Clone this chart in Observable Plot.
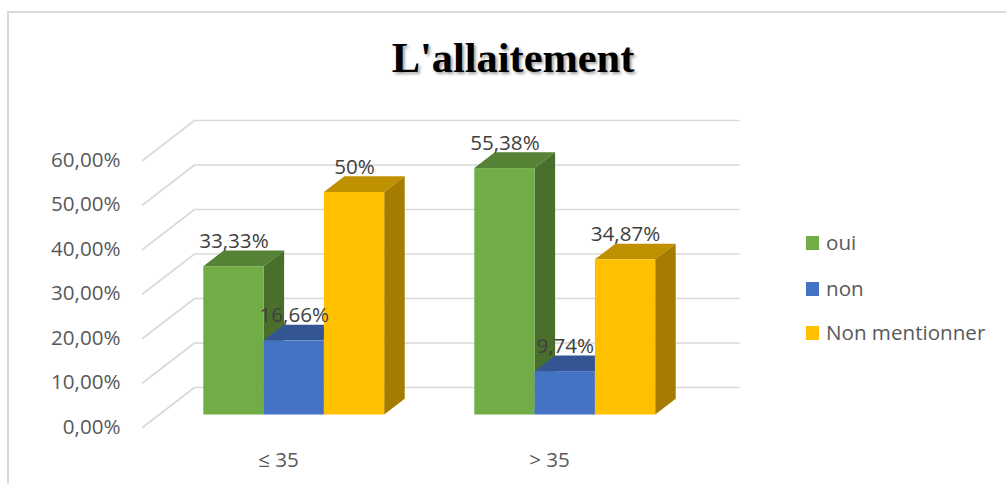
<!DOCTYPE html>
<html>
<head>
<meta charset="utf-8">
<script src="https://cdn.jsdelivr.net/npm/d3@7"></script>
<script src="https://cdn.jsdelivr.net/npm/@observablehq/plot@0.6"></script>
<style>
  html, body { margin: 0; padding: 0; background: #fff; overflow: hidden; }
  #page { position: relative; width: 1006px; height: 484px; overflow: hidden; font-family: "Open Sans", sans-serif; }
  #page svg { position: absolute; left: 0; top: 0; background: transparent; }
  #frame { position: absolute; left: 7px; top: 11px; width: 1100px; height: 600px; border-left: 2px solid #d9d9d9; border-top: 2px solid #d9d9d9; }
  #title { position: absolute; left: 0; top: 32px; width: 1026px; text-align: center; font: bold 42.4px/52px "Liberation Serif", serif; color: #000; text-shadow: 2px 2px 3px rgba(0,0,0,.38); }
  .lg { position: absolute; left: 806px; height: 14px; }
  .lg i { position: absolute; left: 0; top: 0; width: 13px; height: 14px; }
  .lg span { position: absolute; left: 20px; top: -7px; line-height: 26px; font-size: 20.6px; color: #595959; white-space: nowrap; }
</style>
</head>
<body>
<div id="page">
  <div id="frame"></div>
  <div id="title">L'allaitement</div>
</div>
<script>
const groups = ["≤ 35", "> 35"];
const seriesNames = ["oui", "non", "Non mentionner"];
const oui = [33.33, 55.38];
const non = [16.66, 9.74];
const nonMentionner = [50, 34.87];
const ouiLabels = ["33,33%", "55,38%"];
const nonLabels = ["16,66%", "9,74%"];
const nonMentionnerLabels = ["50%", "34,87%"];
const yTicks = [0, 10, 20, 30, 40, 50, 60];
const yTickLabels = ["0,00%", "10,00%", "20,00%", "30,00%", "40,00%", "50,00%", "60,00%"];

const frontColors = ["#70ad47", "#4472c4", "#ffc000"];
const topColors = ["#568235", "#335593", "#bf9000"];
const sideColors = ["#4a6f2c", "#2f5190", "#a67c00"];

// 3D projection constants, in scale units (x: group spacing, y: percent)
const pxX = 271, pxY = 4.45;
const barW = 60.3 / pxX, groupStart = -74.7 / pxX;
const barDX = 20.5 / pxX, barDY = 15.7 / pxY;
const gridFrontX = -136 / pxX, gridBackX = -84 / pxX, gridEndX = 460.5 / pxX;
const gridFrontY = -12.5 / pxY, gridBackY = 27.5 / pxY;

const values = [oui, non, nonMentionner];
const labels = [ouiLabels, nonLabels, nonMentionnerLabels];
const bars = groups.flatMap((g, gi) => values.map((vals, si) => ({
  x1: gi + groupStart + si * barW,
  x2: gi + groupStart + (si + 1) * barW,
  v: vals[gi], label: labels[si][gi], si
})));

const gridLines = yTicks.flatMap(t => [
  {t, x: gridFrontX, y: t + gridFrontY},
  {t, x: gridBackX, y: t + gridBackY},
  {t, x: gridEndX, y: t + gridBackY}
]);

const barMarks = bars.flatMap(b => [
  Plot.area([
    {x: b.x1, lo: b.v, hi: b.v},
    {x: b.x1 + barDX, lo: b.v, hi: b.v + barDY},
    {x: b.x2, lo: b.v, hi: b.v + barDY},
    {x: b.x2 + barDX, lo: b.v + barDY, hi: b.v + barDY}
  ], {x1: "x", y1: "lo", y2: "hi", fill: topColors[b.si]}),
  Plot.area([
    {x: b.x2, lo: 0, hi: b.v},
    {x: b.x2 + barDX, lo: barDY, hi: b.v + barDY}
  ], {x1: "x", y1: "lo", y2: "hi", fill: sideColors[b.si]}),
  Plot.rect([b], {x1: "x1", x2: "x2", y1: 0, y2: "v", fill: frontColors[b.si]})
]);

const chart = Plot.plot({
  width: 1006,
  height: 484,
  marginLeft: 120,
  marginRight: 0,
  marginTop: 0,
  marginBottom: 38,
  style: {fontFamily: "'Open Sans', sans-serif", background: "transparent", overflow: "visible"},
  x: {domain: [0, 1], range: [278, 549], label: null},
  y: {domain: [0, 60], range: [414.5, 147.5], label: null},
  marks: [
    Plot.line(gridLines, {x: "x", y: "y", z: "t", stroke: "#d9d9d9", strokeWidth: 1.6}),
    ...barMarks,
    Plot.text(bars, {
      x: d => (d.x1 + d.x2) / 2, y: "v", text: "label", dy: -25,
      fontSize: 20.6, fill: "#404040", textAnchor: "middle", lineAnchor: "middle"
    }),
    Plot.axisY({
      ticks: yTicks, tickSize: 0, tickPadding: 0, dy: 12, label: null,
      tickFormat: d => yTickLabels[yTicks.indexOf(d)],
      fontSize: 20.6, fill: "#595959"
    }),
    Plot.axisX({
      ticks: [0, 1], tickSize: 0, tickPadding: 6, label: null,
      tickFormat: d => groups[d],
      fontSize: 20.6, fill: "#595959"
    })
  ]
});
const page = document.getElementById("page");
page.appendChild(chart);

const legendTops = [236, 282, 326];
seriesNames.forEach((name, i) => {
  const row = document.createElement("div");
  row.className = "lg";
  row.style.top = legendTops[i] + "px";
  const sw = document.createElement("i");
  sw.style.background = frontColors[i];
  const tx = document.createElement("span");
  tx.textContent = name;
  row.append(sw, tx);
  page.appendChild(row);
});
</script>
</body>
</html>
